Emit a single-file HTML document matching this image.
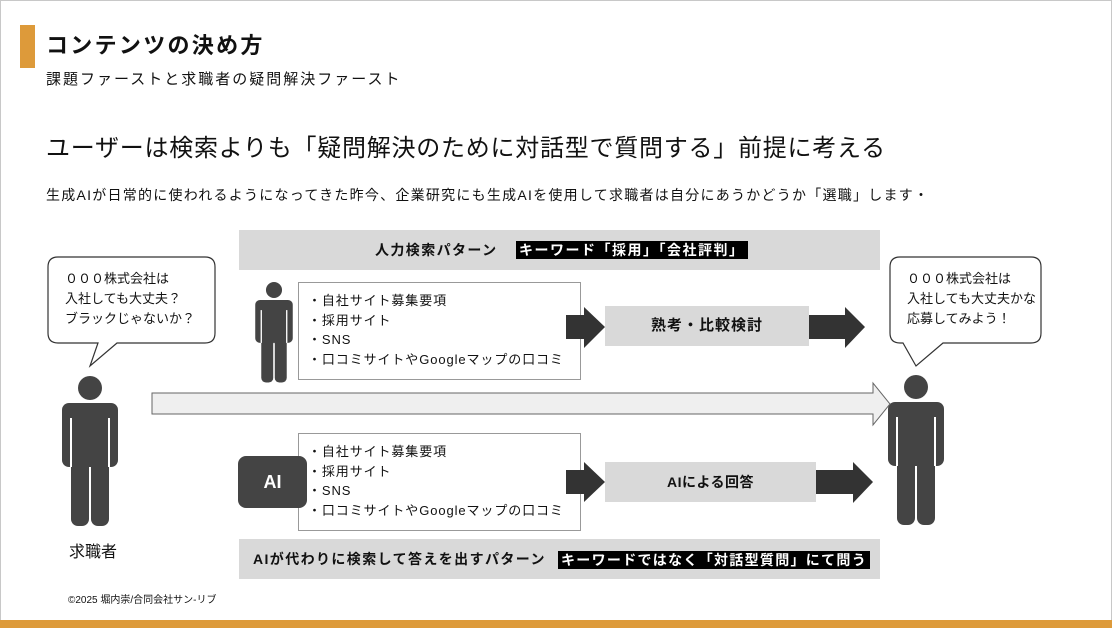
<!DOCTYPE html>
<html><head><meta charset="utf-8"><style>
*{margin:0;padding:0;box-sizing:border-box}
body{width:1112px;height:628px;position:relative;background:#fff;font-family:"Liberation Sans","Noto Sans CJK JP",sans-serif;color:#111;overflow:hidden}
.a{position:absolute;white-space:nowrap}
</style></head><body>
<div class="a" style="left:0;top:0;width:1112px;height:628px;border:1px solid #c8c8c8"></div>
<div class="a" style="left:20px;top:25px;width:15px;height:43px;background:#dd9a3a"></div>
<div class="a" style="left:46px;top:32px;font-size:22px;font-weight:bold;line-height:28px;letter-spacing:2.3px">コンテンツの決め方</div>
<div class="a" style="left:46px;top:70px;font-size:15px;line-height:20px;letter-spacing:2px">課題ファーストと求職者の疑問解決ファースト</div>
<div class="a" style="left:46px;top:133px;font-size:24px;line-height:32px;letter-spacing:0.75px">ユーザーは検索よりも「疑問解決のために対話型で質問する」前提に考える</div>
<div class="a" style="left:46px;top:185px;font-size:14px;line-height:20px;letter-spacing:1.25px">生成AIが日常的に使われるようになってきた昨今、企業研究にも生成AIを使用して求職者は自分にあうかどうか「選職」します・</div>

<svg class="a" style="left:0;top:0" width="1112" height="628">
<defs>
<g id="p">
<circle cx="0" cy="0" r="12" fill="#444"/>
<rect x="-28" y="15" width="56" height="64" rx="7" fill="#444"/>
<rect x="-19" y="40" width="18" height="98" rx="7" fill="#444"/>
<rect x="1" y="40" width="18" height="98" rx="7" fill="#444"/>
<line x1="-19" y1="30" x2="-19" y2="79" stroke="#fff" stroke-width="2"/>
<line x1="19" y1="30" x2="19" y2="79" stroke="#fff" stroke-width="2"/>
<line x1="0" y1="80" x2="0" y2="138" stroke="#fff" stroke-width="2"/>
</g>
</defs>
<rect x="239" y="230" width="641" height="40" fill="#d9d9d9"/>
<rect x="239" y="539" width="641" height="40" fill="#d9d9d9"/>
<path d="M58 257 H205 Q215 257 215 267 V333 Q215 343 205 343 H117 L90 366 L98 343 H58 Q48 343 48 333 V267 Q48 257 58 257Z" fill="#fff" stroke="#333" stroke-width="1.2"/>
<path d="M900 257 H1031 Q1041 257 1041 267 V333 Q1041 343 1031 343 H943 L916 366 L903 343 H900 Q890 343 890 333 V267 Q890 257 900 257Z" fill="#fff" stroke="#333" stroke-width="1.2"/>
<use href="#p" transform="translate(90,388)"/>
<use href="#p" transform="translate(916,387)"/>
<use href="#p" transform="translate(274,290) scale(0.67)"/>
<path d="M152 393 H873 V383 L890 404 L873 425 V414 H152Z" fill="#efefef" stroke="#666" stroke-width="1"/>
<rect x="298.5" y="282.5" width="282" height="97" fill="#fff" stroke="#999"/>
<rect x="298.5" y="433.5" width="282" height="97" fill="#fff" stroke="#999"/>
<rect x="238" y="456" width="69" height="52" rx="8" fill="#444"/>
<path d="M566 315 H584 V307 L605 327 L584 348 V339 H566Z" fill="#333"/>
<path d="M809 315 H845 V307 L865 327 L845 348 V339 H809Z" fill="#333"/>
<path d="M566 470 H584 V462 L605 482 L584 502 V494 H566Z" fill="#333"/>
<path d="M816 470 H853 V462 L873 482 L853 503 V494 H816Z" fill="#333"/>
<rect x="605" y="306" width="204" height="40" fill="#d9d9d9"/>
<rect x="605" y="462" width="211" height="40" fill="#d9d9d9"/>
<rect x="0" y="620" width="1112" height="8" fill="#dd9a3a"/>
</svg>

<div class="a" style="left:375px;top:240px;font-size:14px;font-weight:bold;line-height:20px;letter-spacing:1.4px">人力検索パターン</div>
<div class="a" style="left:516px;top:241px;height:18px;padding:0 3px;background:#000;color:#fff;font-size:14px;font-weight:bold;line-height:18px;letter-spacing:1.5px">キーワード「採用」「会社評判」</div>
<div class="a" style="left:253px;top:549px;font-size:14px;font-weight:bold;line-height:20px;letter-spacing:1.4px">AIが代わりに検索して答えを出すパターン</div>
<div class="a" style="left:558px;top:551px;height:18px;padding:0 3px;background:#000;color:#fff;font-size:14px;font-weight:bold;line-height:18px;letter-spacing:1.3px">キーワードではなく「対話型質問」にて問う</div>

<div class="a" style="left:65px;top:269px;font-size:13px;line-height:20px">０００株式会社は<br>入社しても大丈夫？<br>ブラックじゃないか？</div>
<div class="a" style="left:907px;top:269px;font-size:13px;line-height:20px">０００株式会社は<br>入社しても大丈夫かな<br>応募してみよう！</div>

<div class="a" style="left:308px;top:291px;font-size:13px;line-height:19.5px;letter-spacing:0.9px">・自社サイト募集要項<br>・採用サイト<br>・SNS<br>・口コミサイトやGoogleマップの口コミ</div>
<div class="a" style="left:308px;top:442px;font-size:13px;line-height:19.5px;letter-spacing:0.9px">・自社サイト募集要項<br>・採用サイト<br>・SNS<br>・口コミサイトやGoogleマップの口コミ</div>

<div class="a" style="left:238px;top:470px;width:69px;text-align:center;color:#fff;font-size:18px;font-weight:bold;line-height:24px">AI</div>
<div class="a" style="left:605px;top:316px;width:204px;text-align:center;font-size:15px;font-weight:bold;line-height:20px;letter-spacing:1px">熟考・比較検討</div>
<div class="a" style="left:605px;top:472px;width:211px;text-align:center;font-size:14px;font-weight:bold;line-height:20px;letter-spacing:0.5px">AIによる回答</div>
<div class="a" style="left:69px;top:543px;font-size:16px;line-height:20px">求職者</div>
<div class="a" style="left:68px;top:594px;font-size:10px;line-height:14px">©2025 堀内崇/合同会社サン-リブ</div>
</body></html>
